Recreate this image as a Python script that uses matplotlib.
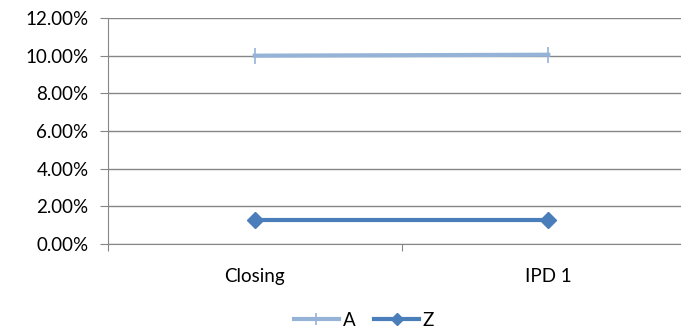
import matplotlib.pyplot as plt
from matplotlib.ticker import FuncFormatter, MultipleLocator

categories = ["Closing", "IPD 1"]
series_a = [10.0, 10.05]
series_z = [1.25, 1.25]

plt.rcParams["font.family"] = ["Lato", "DejaVu Sans"]

fig = plt.figure(figsize=(6.81, 3.33), dpi=100)
# plot area runs past the right edge of the figure
ax = fig.add_axes([108 / 681, 1 - 244 / 333, 587 / 681, 226 / 333])

x = [0.5, 1.5]
ax.plot(x, series_a, color="#95B3D7", lw=3, marker="|", ms=11, mew=1.2,
        label="A", zorder=3)
ax.plot(x, series_z, color="#4A7EBB", lw=3, marker="D", ms=8,
        label="Z", zorder=3)

ax.set_xlim(0, 2)
ax.set_ylim(0, 12)
ax.yaxis.set_major_locator(MultipleLocator(2))
ax.yaxis.set_major_formatter(FuncFormatter(lambda v, _: f"{v:.2f}%"))
ax.set_xticks([0, 1, 2])
ax.set_xticklabels([])
ax.set_xticks(x, minor=True)
ax.set_xticklabels(categories, minor=True)
ax.tick_params(axis="x", which="minor", length=0, pad=17, labelsize=13.5)
ax.tick_params(axis="x", which="major", length=5, color="#868686")
ax.tick_params(axis="y", length=6, color="#868686", labelsize=13.5, pad=8)

ax.grid(axis="y", color="#868686", lw=1)
ax.set_axisbelow(True)
for side in ("top", "right"):
    ax.spines[side].set_visible(False)
ax.spines["left"].set_color("#868686")
ax.spines["bottom"].set_color("#868686")

fig.legend(loc="center", bbox_to_anchor=(364 / 681, 1 - 320 / 333), ncol=2,
           frameon=False, fontsize=13.5, handlelength=2.4, handletextpad=0.2,
           columnspacing=1.0, markerscale=0.8)

fig.savefig("out.png", dpi=100)
